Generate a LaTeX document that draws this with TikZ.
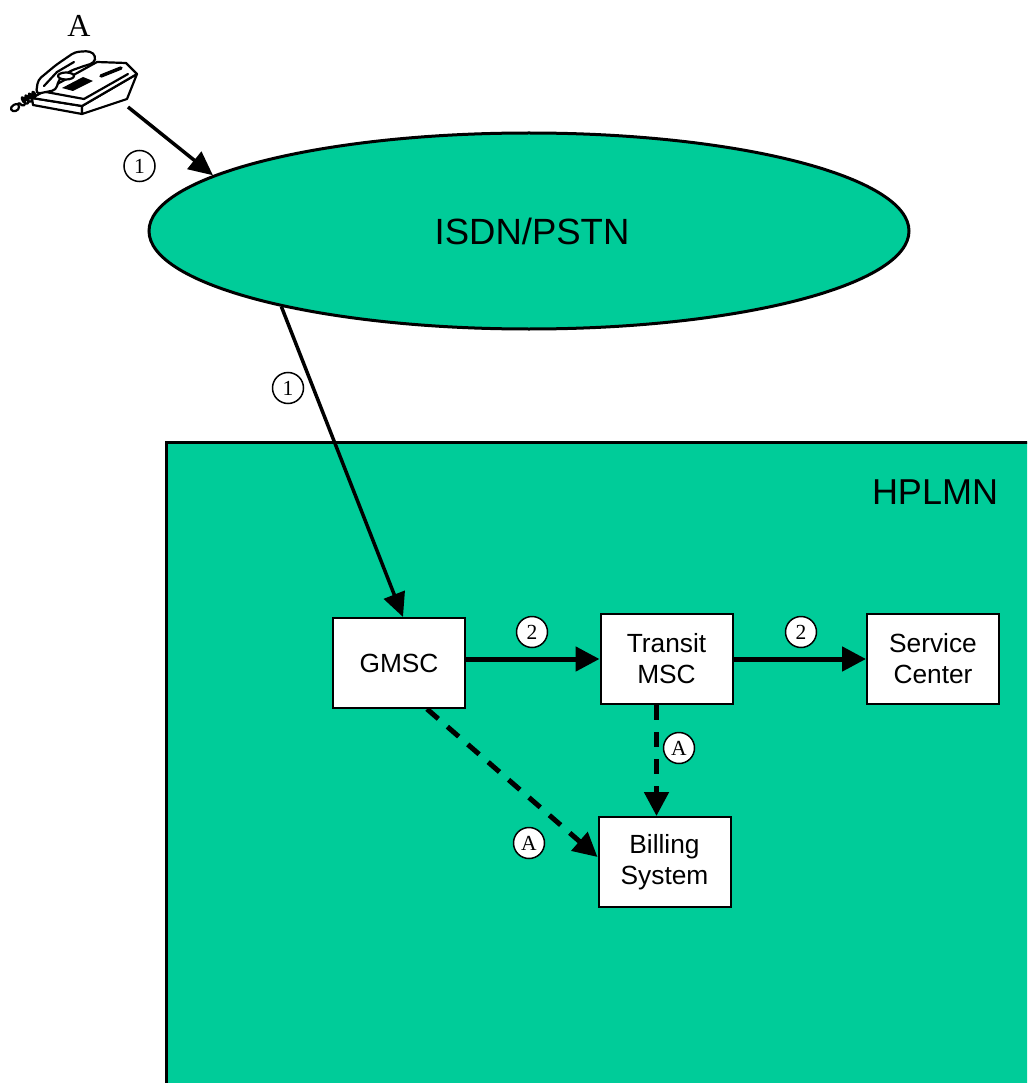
\documentclass[tikz,border=0pt]{standalone}
\usepackage{fontspec}
\setmainfont{Liberation Serif}
\setsansfont{Liberation Sans}
\usetikzlibrary{arrows.meta,shapes.geometric,calc,decorations.pathmorphing}
\definecolor{netgreen}{HTML}{00CC99}
\tikzset{
  netbox/.style={rectangle, draw=black, fill=white, line width=2pt, minimum width=132pt, minimum height=90pt, inner sep=2pt, align=center, font=\sffamily\fontsize{26.3}{31}\selectfont},
  stepnum/.style={circle, draw=black, fill=white, line width=1.5pt, minimum size=31pt, inner sep=0pt, font=\fontsize{21.5}{21.5}\selectfont},
  arrA/.style={line width=3.5pt, -{Triangle[length=24pt,width=22pt]}},
  arrB/.style={line width=5pt, -{Triangle[length=24pt,width=24pt]}},
  dashpat/.style={dash pattern=on 15pt off 12pt},
  phoneline/.style={line width=2.2pt, line join=round, line cap=round}
}
\begin{document}
\begin{tikzpicture}[x=1pt,y=-1pt]
\useasboundingbox (0,0) rectangle (1027,1083);
\clip (0,0) rectangle (1027,1083);
\fill[white] (0,0) rectangle (1027,1083);

% HPLMN area
\draw[fill=netgreen, line width=3pt] (166,442) rectangle (1060,1110);
\node[font=\sffamily\fontsize{36}{40}\selectfont] (hplmn) at (935,492) {HPLMN};

% ISDN/PSTN ellipse
\node[ellipse, draw=black, fill=netgreen, line width=3pt, minimum width=760pt, minimum height=196pt, inner sep=0pt, font=\sffamily\fontsize{36.5}{40}\selectfont] (isdn) at (529,231) {\hspace*{6pt}ISDN/PSTN};

% Telephone A
\node[font=\fontsize{32}{32}\selectfont] (userA) at (79,26) {A};
\begin{scope}[phoneline]
  % cord
  \draw[decorate, decoration={coil, segment length=4pt, amplitude=4pt}] (39,93) -- (18,104);
  \draw (18,104) .. controls (11,104) and (9,110) .. (13,111) .. controls (17,112) and (21,108) .. (18,104);
  % base
  \draw[fill=white] (32,98) -- (82,106) -- (82,114) -- (33,105) -- cycle;
  \draw[fill=white] (82,106) -- (137,74) -- (127,99) -- (82,114) -- cycle;
  \draw[fill=white] (32,98) -- (97,62) -- (126,63) -- (137,74) -- (82,106) -- cycle;
  \draw (46,92) -- (84,99) -- (128,74);
  % keypad and display
  \fill[black] (62,88) -- (73,91) -- (93,81) -- (83,77) -- cycle;
  \draw[line width=3.5pt] (101,76) -- (121,68);
  % handset
  \draw[fill=white, rounded corners=4pt] (36,94) -- (38,80) -- (56,65) -- (75,52) -- (90,51) -- (96,56) -- (94,63) -- (84,66) -- (70,71) -- (59,79) -- (56,90) -- cycle;
  \draw (44,86) -- (57,72) -- (74,62);
  \draw[fill=white] (66,76) ellipse [x radius=8pt, y radius=3.5pt];
\end{scope}
\coordinate (phoneout) at (128,107);

% network elements
\node[netbox] (gmsc) at (399,663) {GMSC};
\node[netbox] (transit) at (666.5,659) {Transit\\MSC};
\node[netbox] (svc) at (933,659) {Service\\Center};
\node[netbox] (billing) at (664.5,862) {Billing\\System};

% connectors
\draw[arrA] (phoneout) -- (isdn.170.7);
\draw[arrA] (isdn.197.3) -- ($(gmsc.north)+(4,0)$);
\draw[arrB] (gmsc.east |- transit.west) -- (transit.west);
\draw[arrB] (transit.east) -- (svc.west);
\coordinate (ts) at ($(transit.south)+(-10,0)$);
\draw[arrB, dashpat] (ts) -- (ts |- billing.north);
\draw[arrB, dashpat] ($(gmsc.south)+(28,0)$) -- ($(billing.west)+(0,-5)$);

% step labels
\node[stepnum] (l1a) at (139.5,166) {1};
\node[stepnum] (l1b) at (288,388) {1};
\node[stepnum] (l2a) at (532,632) {2};
\node[stepnum] (l2b) at (801,632) {2};
\node[stepnum] (lAa) at (679,748) {A};
\node[stepnum] (lAb) at (529,843) {A};
\end{tikzpicture}
\end{document}
